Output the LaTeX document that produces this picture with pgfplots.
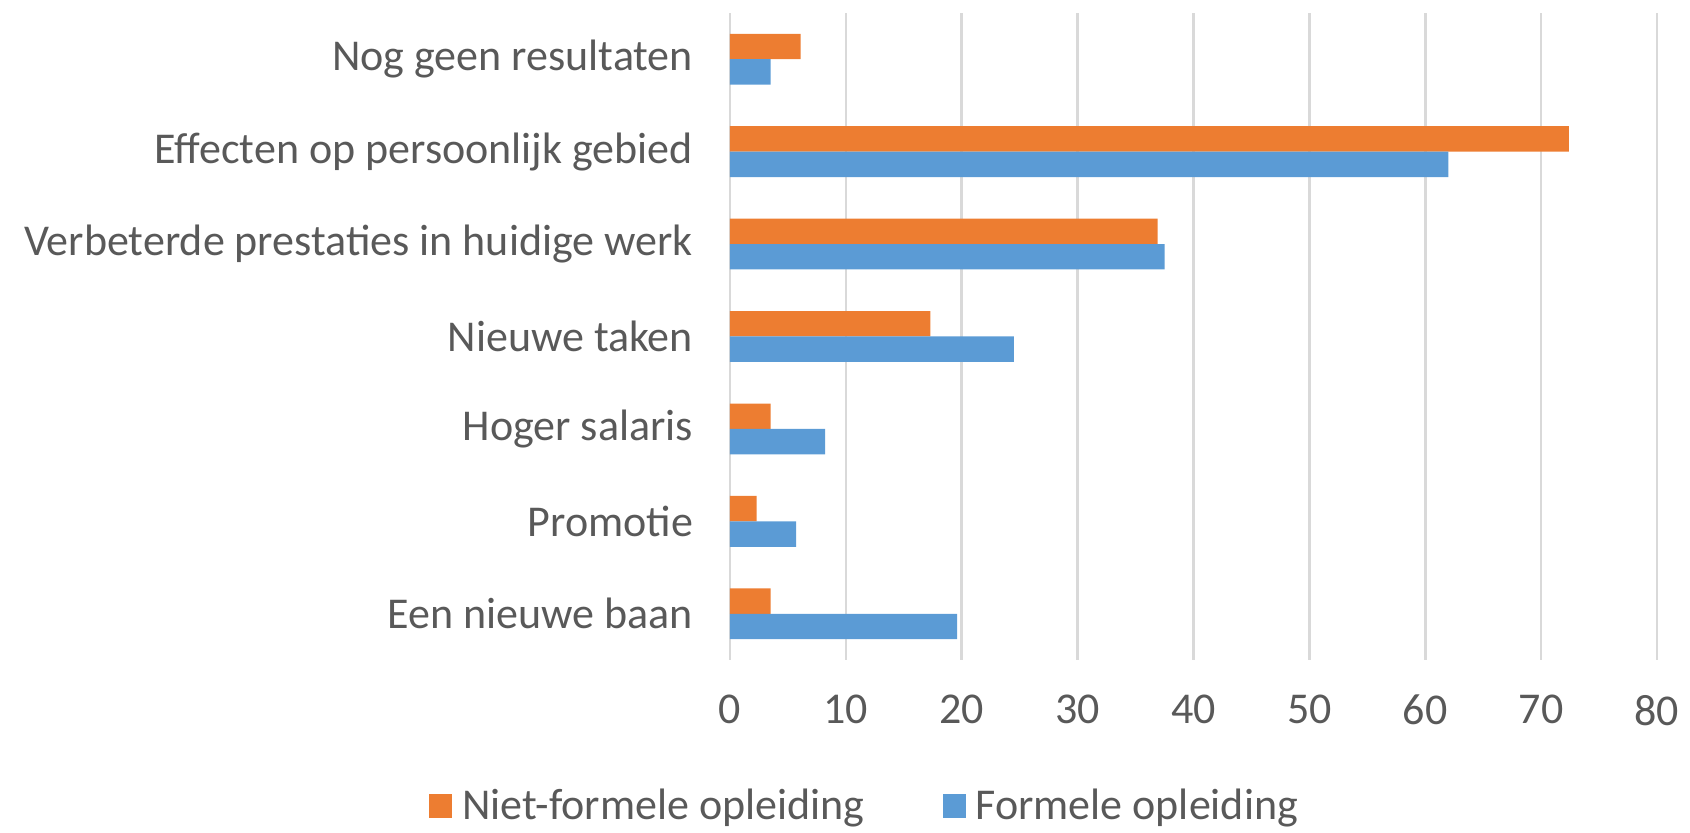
\documentclass[border=0pt]{standalone}
\usepackage{pgfplots}
\pgfplotsset{compat=1.18}
\usepackage{fontspec}
\setmainfont{Carlito}
\definecolor{cOrange}{HTML}{ED7D31}
\definecolor{cBlue}{HTML}{5B9BD5}
\definecolor{cText}{HTML}{595959}
\definecolor{cGrid}{HTML}{D9D9D9}
\begin{document}
\begin{tikzpicture}
\path[use as bounding box] (-365pt,-86.5pt) rectangle (480pt,330pt);
\begin{axis}[
  at={(0pt,0pt)}, anchor=south west,
  scale only axis, width=463.5pt, height=323.5pt,
  xbar, bar width=0.275,
  xmin=0, xmax=80, ymin=-0.5, ymax=6.5,
  xtick={0,10,...,80},
  ytick={0,1,2,3,4,5,6},
  yticklabels={Een nieuwe baan, Promotie, Hoger salaris, Nieuwe taken, Verbeterde prestaties in huidige werk, Effecten op persoonlijk gebied, Nog geen resultaten},
  xmajorgrids, grid style={cGrid, line width=1.3pt},
  axis line style={draw=none},
  major tick length=0pt, tick style={draw=none},
  tick label style={font=\fontsize{22}{26}\selectfont, text=cText},
  /pgf/number format/assume math mode=true,
  yticklabel style={anchor=east, xshift=-15pt},
  xticklabel style={anchor=north, yshift=-14pt},
  legend style={at={(0.1497,-0.226)}, anchor=center, draw=none, fill=none,
    font=\fontsize{22}{26}\selectfont, text=cText, legend columns=2,
    /tikz/every even column/.append style={column sep=34pt},
    nodes={inner xsep=5pt}},
  legend image code/.code={\fill[#1] (0pt,-6pt) rectangle (11.5pt,6pt);},
]
\addplot[fill=cOrange, draw=none, bar shift=0.1375] coordinates {
  (3.5,0) (2.3,1) (3.5,2) (17.3,3) (36.9,4) (72.4,5) (6.1,6)};
\addlegendentry{Niet-formele opleiding}
\addplot[fill=cBlue, draw=none, bar shift=-0.1375] coordinates {
  (19.6,0) (5.7,1) (8.2,2) (24.5,3) (37.5,4) (62.0,5) (3.5,6)};
\addlegendentry{Formele opleiding}
\end{axis}
\end{tikzpicture}
\end{document}
